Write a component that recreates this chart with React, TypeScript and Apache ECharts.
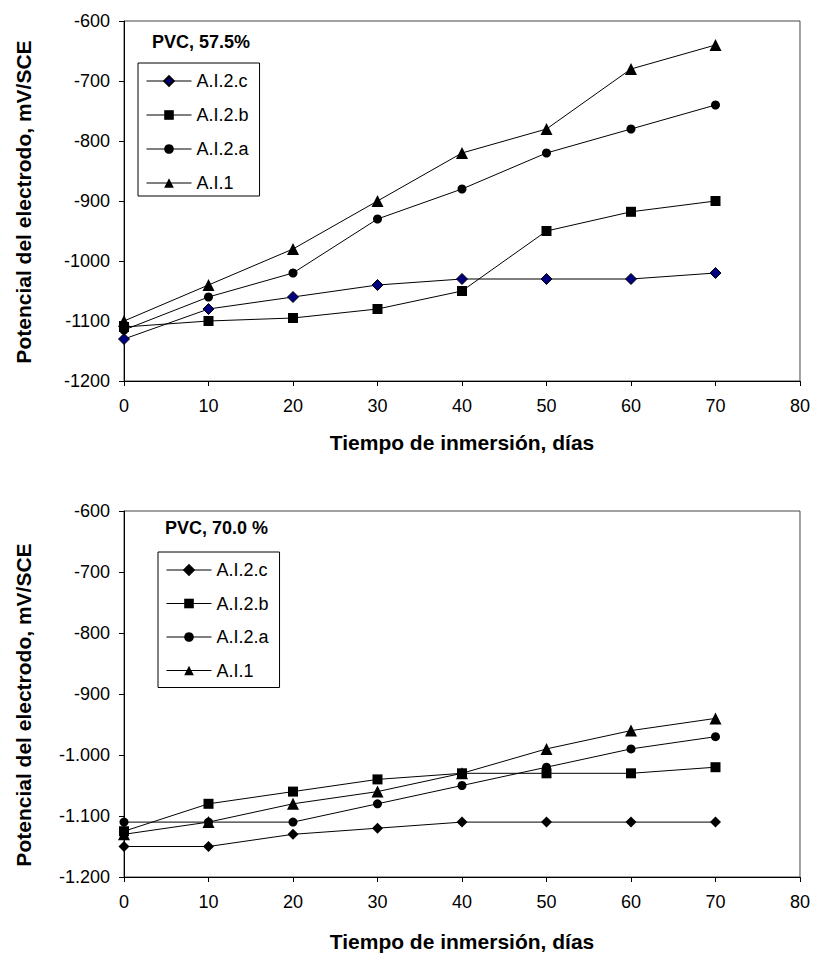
import React, { useEffect, useRef } from "react";
import * as echarts from "echarts";

const days = [0, 10, 20, 30, 40, 50, 60, 70];
const seriesNames = ["A.I.2.c", "A.I.2.b", "A.I.2.a", "A.I.1"];
const symbols = ["diamond", "rect", "circle", "triangle"];
const symbolSizes = [11, 10, 9, 12];

// PVC 57.5 %
const top_AI2c = [-1130, -1080, -1060, -1040, -1030, -1030, -1030, -1020];
const top_AI2b = [-1110, -1100, -1095, -1080, -1050, -950, -918, -900];
const top_AI2a = [-1115, -1060, -1020, -930, -880, -820, -780, -740];
const top_AI1 = [-1100, -1040, -980, -900, -820, -780, -680, -640];

// PVC 70.0 %
const bot_AI2c = [-1150, -1150, -1130, -1120, -1110, -1110, -1110, -1110];
const bot_AI2b = [-1125, -1080, -1060, -1040, -1030, -1030, -1030, -1020];
const bot_AI2a = [-1110, -1110, -1110, -1080, -1050, -1020, -990, -970];
const bot_AI1 = [-1130, -1110, -1080, -1060, -1030, -990, -960, -940];

const topTitle = "PVC, 57.5%";
const botTitle = "PVC, 70.0 %";
const xName = "Tiempo de inmersión, días";
const yName = "Potencial del electrodo, mV/SCE";

const FONT = "'Liberation Sans', Arial, sans-serif";

function fmtDot(v: number) {
  const s = Math.abs(v).toString();
  const body = s.length > 3 ? s.slice(0, -3) + "." + s.slice(-3) : s;
  return (v < 0 ? "-" : "") + body;
}

export default function App() {
  const ref = useRef<HTMLDivElement>(null);
  useEffect(() => {
    document.body.style.margin = "0";
    const chart = echarts.init(ref.current!, undefined, { renderer: "svg" });
    const topData = [top_AI2c, top_AI2b, top_AI2a, top_AI1];
    const botData = [bot_AI2c, bot_AI2b, bot_AI2a, bot_AI1];
    const mk = (vals: number[], i: number, gi: number) => ({
      type: "line",
      name: seriesNames[i],
      xAxisIndex: gi,
      yAxisIndex: gi,
      data: days.map((d, k) => [d, vals[k]]),
      symbol: symbols[i],
      symbolSize: symbolSizes[i],
      showSymbol: true,
      lineStyle: { color: "#000", width: 1 },
      itemStyle: {
        color: gi === 0 && i === 0 ? "#00007f" : "#000",
        borderColor: "#000",
        borderWidth: gi === 0 && i === 0 ? 1 : 0,
      },
      emphasis: { disabled: true },
      z: 3 + i,
    });
    const xAxis = (gi: number) => ({
      type: "value",
      gridIndex: gi,
      min: 0,
      max: 80,
      interval: 10,
      axisLine: { show: true, lineStyle: { color: "#000", width: 1 } },
      axisTick: { show: true, inside: false, length: 5, lineStyle: { color: "#000" } },
      splitLine: { show: false },
      axisLabel: { color: "#000", fontFamily: FONT, fontSize: 18, margin: 16 },
      name: xName,
      nameLocation: "middle",
      nameGap: gi === 0 ? 51 : 54,
      nameTextStyle: { color: "#000", fontFamily: FONT, fontSize: 21, fontWeight: "bold" },
    });
    const yAxis = (gi: number) => ({
      type: "value",
      gridIndex: gi,
      min: -1200,
      max: -600,
      interval: 100,
      axisLine: { show: true, lineStyle: { color: "#000", width: 1 } },
      axisTick: { show: true, inside: false, length: 5, lineStyle: { color: "#000" } },
      splitLine: { show: false },
      axisLabel: {
        color: "#000",
        fontFamily: FONT,
        fontSize: 18,
        margin: 14,
        formatter: gi === 0 ? (v: number) => String(v) : (v: number) => fmtDot(v),
      },
    });
    const legend = (gi: number, left: number, top: number) => ({
      orient: "vertical",
      left,
      top,
      padding: gi === 0 ? [9, 11, 4, 8] : [9, 11, 8, 8],
      itemWidth: 45,
      itemHeight: 12,
      itemGap: gi === 0 ? 16 : 15.5,
      borderColor: "#000",
      borderWidth: 1,
      backgroundColor: "#fff",
      selectedMode: false,
      textStyle: { color: "#000", fontFamily: FONT, fontSize: 18, lineHeight: 18 },
      data: seriesNames.map((n, i) => ({
        name: n,
        itemStyle: { color: gi === 0 && i === 0 ? "#00007f" : "#000" },
        lineStyle: { color: "#000", width: 1 },
      })),
    });
    const yTitle = (cy: number) => ({
      type: "text",
      x: 23,
      y: cy,
      rotation: Math.PI / 2,
      style: {
        text: yName,
        fill: "#000",
        font: `bold 21px ${FONT}`,
        textAlign: "center",
        textVerticalAlign: "middle",
      },
    });
    chart.setOption({
      animation: false,
      backgroundColor: "#fff",
      grid: [
        { left: 124, top: 21, width: 678, height: 360, show: true, borderColor: "#444", borderWidth: 1 },
        { left: 124, top: 511, width: 678, height: 366, show: true, borderColor: "#444", borderWidth: 1 },
      ],
      xAxis: [xAxis(0), xAxis(1)],
      yAxis: [yAxis(0), yAxis(1)],
      legend: [legend(0, 138, 63), legend(1, 158, 552)],
      title: [
        { text: topTitle, left: 152, top: 33, padding: 0, textStyle: { color: "#000", fontFamily: FONT, fontSize: 18, fontWeight: "bold" } },
        { text: botTitle, left: 165, top: 519, padding: 0, textStyle: { color: "#000", fontFamily: FONT, fontSize: 18, fontWeight: "bold" } },
      ],
      graphic: [yTitle(202), yTitle(705)],
      series: [
        ...topData.map((v, i) => mk(v, i, 0)),
        ...botData.map((v, i) => mk(v, i, 1)),
      ],
    });
    return () => chart.dispose();
  }, []);
  return <div ref={ref} style={{ width: 813, height: 955 }} />;
}
